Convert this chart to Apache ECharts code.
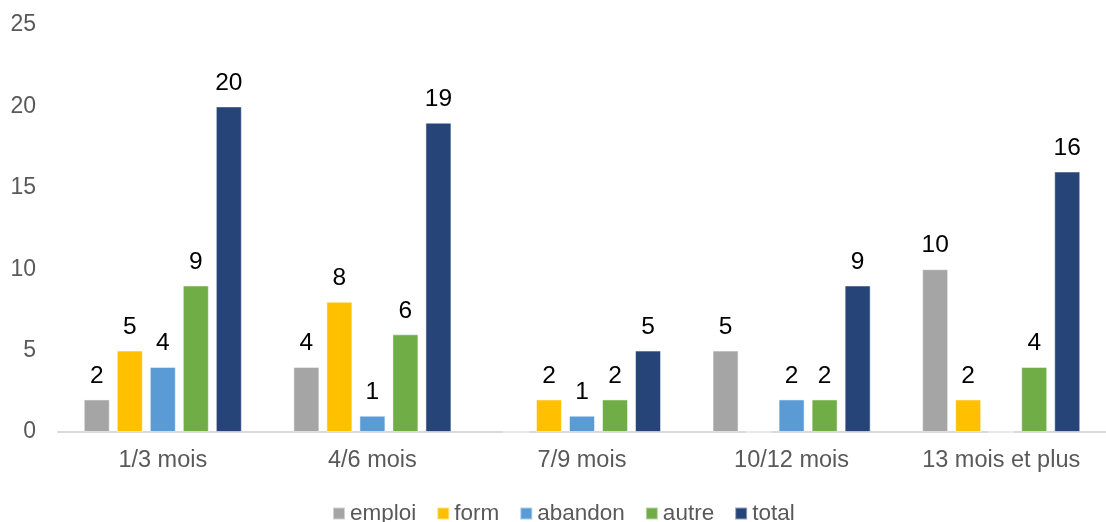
<!DOCTYPE html>
<html><head><meta charset="utf-8">
<script src="https://cdn.jsdelivr.net/npm/echarts@6/dist/echarts.min.js"></script>
<style>html,body{margin:0;padding:0;background:#fff}#c{width:1106px;height:522px}</style>
</head><body><div id="c"></div>
<script>
const categories = ['1/3 mois','4/6 mois','7/9 mois','10/12 mois','13 mois et plus'];
const emploi = [2,4,0,5,10];
const form = [5,8,2,0,2];
const abandon = [4,1,1,2,0];
const autre = [9,6,2,2,4];
const total = [20,19,5,9,16];
const seriesNames = ['emploi','form','abandon','autre','total'];
const seriesColors = ['#A5A5A5','#FFC000','#5B9BD5','#70AD47','#264478'];
const seriesData = [emploi, form, abandon, autre, total];

const FF = 'Liberation Sans, Arial, sans-serif';
const chart = echarts.init(document.getElementById('c'));
chart.setOption({
  animation:false,
  textStyle:{fontFamily:FF},
  grid:{left:58,right:-14,top:25,bottom:90,containLabel:false},
  legend:{top:502,left:332,itemWidth:12,itemHeight:12,itemGap:20,icon:'rect',padding:0,
    textStyle:{fontSize:22.5,color:'#595959',fontFamily:FF},
    data:seriesNames},
  xAxis:{type:'category',data:categories,
    axisLine:{lineStyle:{color:'#D9D9D9',width:2}},axisTick:{show:false},
    axisLabel:{fontSize:23.5,color:'#595959',margin:17}},
  yAxis:{type:'value',min:0,max:25,interval:5,splitLine:{show:false},
    axisLine:{show:false},axisTick:{show:false},
    axisLabel:{fontSize:23,color:'#595959',margin:22}},
  series: seriesNames.map((n,i)=>({
    name:n,type:'bar',barWidth:26,barGap:'27%',barCategoryGap:'25%',
    data:seriesData[i],
    itemStyle:{color:seriesColors[i],borderColor:'rgba(255,255,255,0.5)',borderWidth:1},
    label:{show:true,position:'top',distance:11,fontSize:24.5,color:'#000',
      formatter:p=>p.value===0?'':p.value}
  }))
});
</script></body></html>
